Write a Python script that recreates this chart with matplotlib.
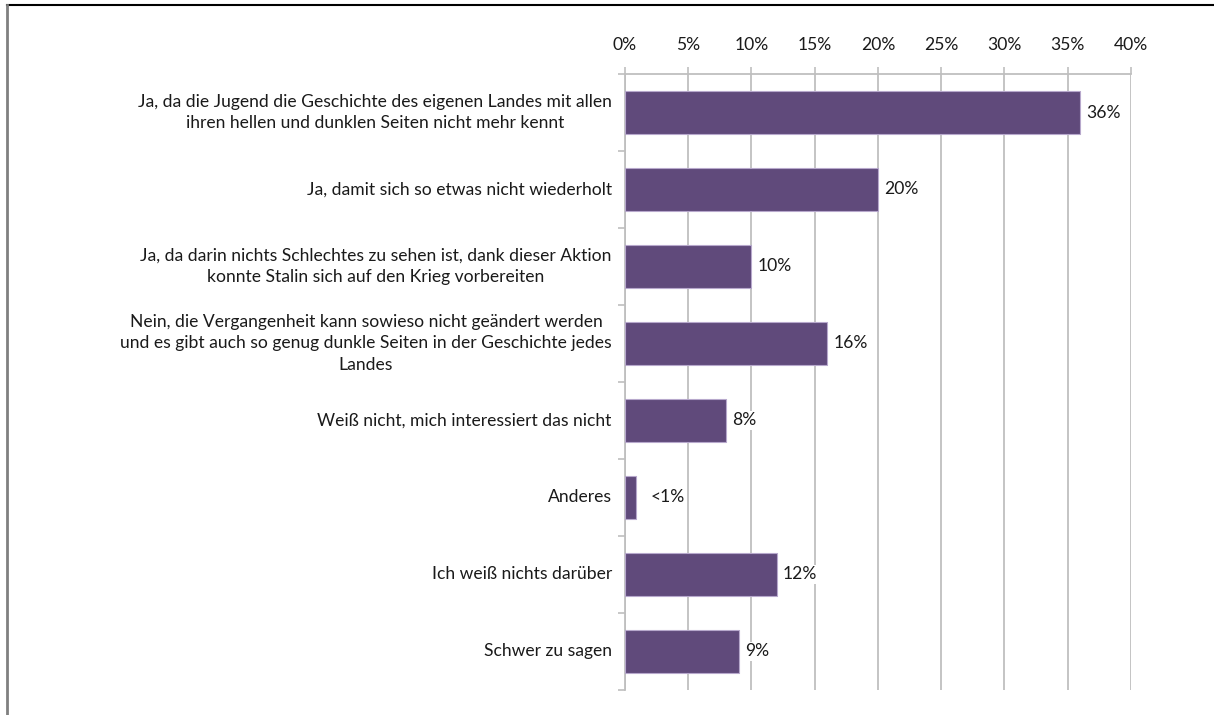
import numpy as np
import matplotlib.pyplot as plt
from matplotlib.lines import Line2D

plt.rcParams['font.family'] = ['Lato', 'DejaVu Sans']

categories = [
    "Ja, da die Jugend die Geschichte des eigenen Landes mit allen\nihren hellen und dunklen Seiten nicht mehr kennt",
    "Ja, damit sich so etwas nicht wiederholt",
    "Ja, da darin nichts Schlechtes zu sehen ist, dank dieser Aktion\nkonnte Stalin sich auf den Krieg vorbereiten",
    "Nein, die Vergangenheit kann sowieso nicht geändert werden\nund es gibt auch so genug dunkle Seiten in der Geschichte jedes\nLandes",
    "Weiß nicht, mich interessiert das nicht",
    "Anderes",
    "Ich weiß nichts darüber",
    "Schwer zu sagen",
]
values = [36, 20, 10, 16, 8, 0.9, 12, 9]
value_labels = ["36%", "20%", "10%", "16%", "8%", "<1%", "12%", "9%"]
xticks = [0, 5, 10, 15, 20, 25, 30, 35, 40]

fs = 12.6

fig = plt.figure(figsize=(12.14, 7.15), dpi=100)
ax = fig.add_axes([0.5148, 0.035, 0.4168, 0.8615])

y = np.arange(len(categories))
ax.barh(y, values, height=0.57, color='#604A7B', edgecolor='#B7A8CC',
        linewidth=0.8, zorder=3)

for yi, v, lab in zip(y, values, value_labels):
    gap = 10 if lab.startswith('<') else 4.5
    ax.annotate(lab, (v, yi), xytext=(gap, 0), textcoords='offset points',
                va='center', ha='left', fontsize=fs, color='#1a1a1a', zorder=4,
                bbox=dict(facecolor='white', edgecolor='none', pad=1))

ax.set_xlim(0, 40)
ax.set_ylim(len(categories) - 0.5, -0.5)
ax.xaxis.tick_top()
ax.set_xticks(xticks)
ax.set_xticklabels([f"{t}%" for t in xticks], fontsize=fs, color='#1a1a1a')
ax.tick_params(axis='x', length=5, color='#BFBFBF', width=1.2, pad=10)
ax.xaxis.grid(True, color='#BFBFBF', linewidth=1.3, zorder=0)

# category labels sit between the band ticks
ax.set_yticks(np.arange(len(categories) + 1) - 0.5)
ax.set_yticklabels([])
ax.tick_params(axis='y', length=5, color='#BFBFBF', width=1.2)
for yi, cat in zip(y, categories):
    ax.annotate(cat, (0, yi), xytext=(-9.5, 0), textcoords='offset points',
                ha='right', va='center', multialignment='center',
                fontsize=fs, color='#1a1a1a', linespacing=1.4)

for side in ['right', 'bottom']:
    ax.spines[side].set_visible(False)
ax.spines['top'].set_color('#BFBFBF')
ax.spines['top'].set_linewidth(1.3)
ax.spines['left'].set_color('#BFBFBF')
ax.spines['left'].set_linewidth(1.3)

# page frame
fig.add_artist(Line2D([0.006, 1.0], [0.993, 0.993], color='black', linewidth=1.5))
fig.add_artist(Line2D([0.006, 0.006], [0.0, 0.993], color='#808080', linewidth=2))

fig.savefig('out.png', dpi=100, facecolor='white')
